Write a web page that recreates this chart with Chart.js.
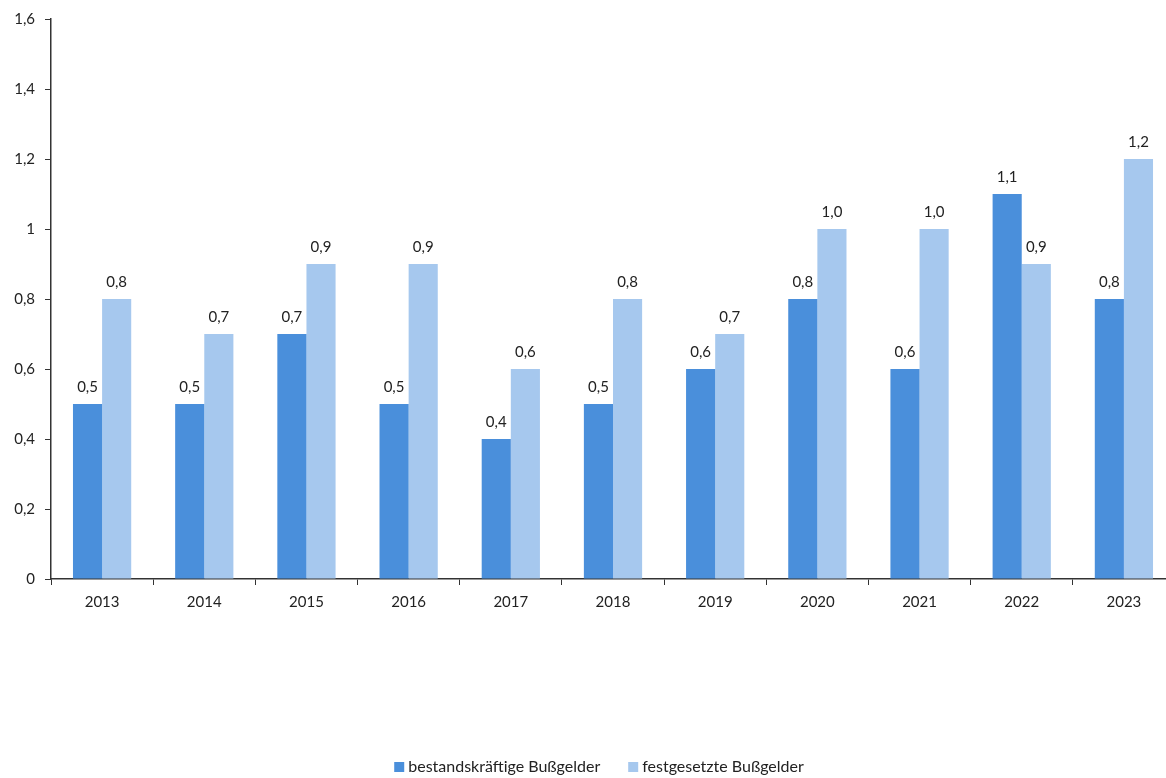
<!DOCTYPE html>
<html lang="de">
<head>
<meta charset="utf-8">
<script src="https://cdn.jsdelivr.net/npm/chart.js@4/dist/chart.umd.min.js"></script>
<style>
  html, body { margin: 0; padding: 0; background: #fff; overflow: hidden; }
  #wrap { width: 1175px; height: 778px; }
</style>
</head>
<body>
<div id="wrap"><canvas id="chart"></canvas></div>
<script>
const years = ['2013', '2014', '2015', '2016', '2017', '2018', '2019', '2020', '2021', '2022', '2023'];
const bestandskraeftig = [0.5, 0.5, 0.7, 0.5, 0.4, 0.5, 0.6, 0.8, 0.6, 1.1, 0.8];
const festgesetzt = [0.8, 0.7, 0.9, 0.9, 0.6, 0.8, 0.7, 1.0, 1.0, 0.9, 1.2];
const seriesNames = ['bestandskräftige Bußgelder', 'festgesetzte Bußgelder'];

const FONT = "Lato, 'Open Sans', sans-serif";
const fmt = (v, dec) => {
  const r = Math.round(v * 10) / 10;
  return (dec ? r.toFixed(1) : String(r)).replace('.', ',');
};

// value labels above each bar
const barValues = {
  id: 'barValues',
  afterDatasetsDraw(chart) {
    const { ctx } = chart;
    ctx.save();
    ctx.font = '15px ' + FONT;
    ctx.fillStyle = '#222';
    ctx.textAlign = 'center';
    ctx.textBaseline = 'middle';
    chart.data.datasets.forEach((ds, i) => {
      chart.getDatasetMeta(i).data.forEach((bar, j) => {
        ctx.fillText(fmt(ds.data[j], true), bar.x, bar.y - 17);
      });
    });
    ctx.restore();
  }
};

// legend row at the very bottom, squares + series names
const bottomLegend = {
  id: 'bottomLegend',
  afterDraw(chart) {
    const { ctx } = chart;
    const y = 767, box = 10, gapText = 4, gapItem = 28, center = 599;
    ctx.save();
    ctx.font = '16px ' + FONT;
    ctx.textBaseline = 'middle';
    const items = chart.data.datasets.map(ds => ({
      text: ds.label, color: ds.backgroundColor,
      w: box + gapText + ctx.measureText(ds.label).width
    }));
    const total = items.reduce((s, it) => s + it.w, 0) + gapItem * (items.length - 1);
    let x = center - total / 2;
    items.forEach(it => {
      ctx.fillStyle = it.color;
      ctx.fillRect(x, y - box / 2, box, box);
      ctx.fillStyle = '#222';
      ctx.fillText(it.text, x + box + gapText, y);
      x += it.w + gapItem;
    });
    ctx.restore();
  }
};

new Chart(document.getElementById('chart'), {
  type: 'bar',
  data: {
    labels: years,
    datasets: [
      { label: seriesNames[0], data: bestandskraeftig, backgroundColor: '#4a8fdb' },
      { label: seriesNames[1], data: festgesetzt, backgroundColor: '#a6c8ee' }
    ]
  },
  options: {
    responsive: true,
    maintainAspectRatio: false,
    animation: false,
    categoryPercentage: 0.57,
    barPercentage: 1.0,
    layout: { padding: { top: 18, right: 0, bottom: 0, left: 0 } },
    plugins: {
      tooltip: { enabled: false },
      legend: { display: false }
    },
    scales: {
      x: {
        grid: { offset: true, drawOnChartArea: false, tickLength: 6, color: '#333' },
        border: { color: '#333', width: 1.5 },
        ticks: { color: '#222', font: { family: FONT, size: 15 }, padding: 8, maxRotation: 0 },
        afterFit(scale) { scale.height = 199; }
      },
      y: {
        min: 0, max: 1.6,
        grid: { drawOnChartArea: false, tickLength: 6, color: '#333' },
        border: { color: '#333', width: 1.5 },
        ticks: {
          stepSize: 0.2, color: '#222', padding: 10,
          font: { family: FONT, size: 15 },
          callback: v => fmt(v, false)
        },
        afterFit(scale) { scale.width = 51; }
      }
    }
  },
  plugins: [barValues, bottomLegend]
});
</script>
</body>
</html>
